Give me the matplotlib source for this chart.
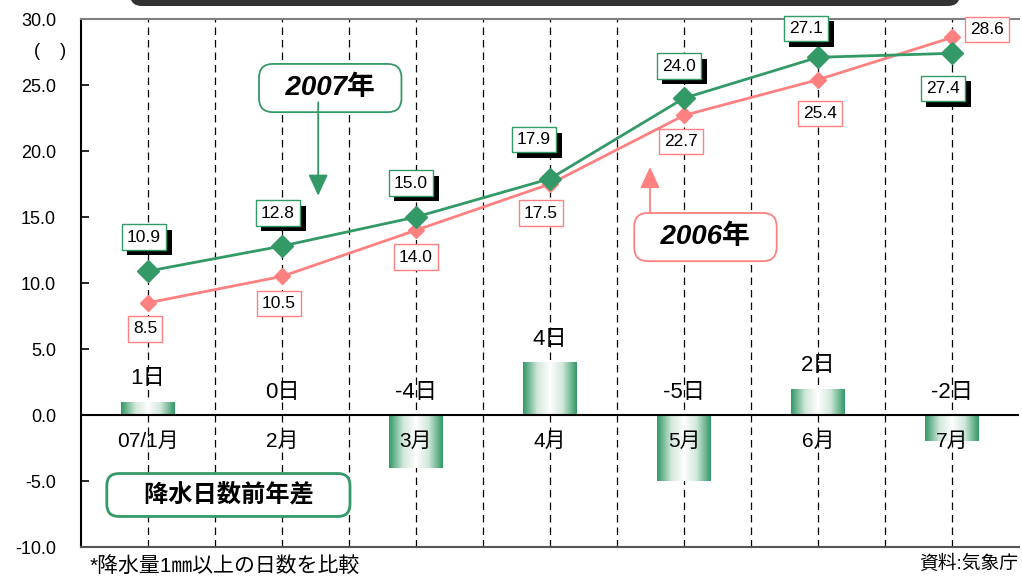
import matplotlib
matplotlib.use('Agg')
import matplotlib.pyplot as plt
import numpy as np
from matplotlib.colors import LinearSegmentedColormap
from matplotlib.patches import FancyBboxPatch
from matplotlib.transforms import IdentityTransform
import matplotlib.patheffects as pe

plt.rcParams['font.family'] = ['Liberation Sans', 'Noto Sans CJK JP']

months = ['07/1月', '2月', '3月', '4月', '5月', '6月', '7月']
temp_2007 = [10.9, 12.8, 15.0, 17.9, 24.0, 27.1, 27.4]
temp_2006 = [8.5, 10.5, 14.0, 17.5, 22.7, 25.4, 28.6]
rain_diff = [1, 0, -4, 4, -5, 2, -2]
y_ticks = [-10, -5, 0, 5, 10, 15, 20, 25, 30]

GREEN = '#339966'
PINK = '#ff8080'

# label offsets in pixels (dx, dy)
off_2007 = [(-4, 34), (-4, 33), (-5, 34), (-16, 39), (-5, 32), (-12, 29), (-9, -35)]
off_2006 = [(-3, -26), (-3, -27), (0, -27), (-9, -29), (-3, -26), (2, -34), (35, 8)]

fig = plt.figure(figsize=(10.22, 5.76), dpi=100)
ax = fig.add_axes([81 / 1022, 29 / 576, 938 / 1022, 528 / 576])

x = np.arange(len(months))
ax.set_xlim(-0.5, len(months) - 0.5)
ax.set_ylim(-10, 30)

# dashed verticals at centres and borders
for xv in np.arange(0, len(months) - 0.5, 0.5):
    ax.axvline(xv, color='black', lw=0.9, ls=(0, (6, 4)), zorder=0)

ax.axhline(0, color='black', lw=1.5, zorder=3)

# gradient bars
cmap = LinearSegmentedColormap.from_list('g', ['white', '#d2e8dc', GREEN])
grad = np.abs(np.linspace(-1, 1, 256)).reshape(1, -1) ** 0.9
bars = ax.bar(x, rain_diff, width=0.40, facecolor='none', edgecolor='none', zorder=2)
for b in bars:
    if b.get_height() == 0:
        continue
    y0, y1 = sorted([b.get_y(), b.get_y() + b.get_height()])
    im = ax.imshow(grad, cmap=cmap, aspect='auto', zorder=2,
                   extent=[b.get_x(), b.get_x() + b.get_width(), y0, y1])
    im.set_clip_path(b)

for xi, v in zip(x, rain_diff):
    ax.annotate(f'{v}日', (xi, max(v, 0)), xytext=(0, 23), textcoords='offset pixels',
                ha='center', va='center', fontsize=16, zorder=5)

for xi, m in zip(x, months):
    ax.annotate(m, (xi, 0), xytext=(0, -26), textcoords='offset pixels',
                ha='center', va='center', fontsize=15, zorder=5)

# lines
ax.plot(x, temp_2006, color=PINK, lw=2, marker='D', ms=8, zorder=6)
ax.plot(x, temp_2007, color=GREEN, lw=2, marker='D', ms=11, zorder=7)

for xi, v, (dx, dy) in zip(x, temp_2007, off_2007):
    t = ax.annotate(f'{v:.1f}', (xi, v), xytext=(dx, dy), textcoords='offset pixels',
                    ha='center', va='center', fontsize=12.5, zorder=8,
                    bbox=dict(boxstyle='square,pad=0.3', fc='white', ec=GREEN, lw=1))
    t.get_bbox_patch().set_path_effects([
        pe.SimplePatchShadow(offset=(4, -4), shadow_rgbFace='black', alpha=1), pe.Normal()])

for xi, v, (dx, dy) in zip(x, temp_2006, off_2006):
    ax.annotate(f'{v:.1f}', (xi, v), xytext=(dx, dy), textcoords='offset pixels',
                ha='center', va='center', fontsize=12.5, zorder=8,
                bbox=dict(boxstyle='square,pad=0.3', fc='white', ec=PINK, lw=1))

# legend-like callouts
ax.text(1.36, 24.77, '  2007年  ', fontsize=20, fontweight='bold', style='italic',
        ha='center', va='center', zorder=9,
        bbox=dict(boxstyle='round,pad=0.4,rounding_size=0.5', fc='white', ec=GREEN, lw=1.3))
ax.annotate('', xy=(1.27, 16.4), xytext=(1.27, 23.9), zorder=9,
            arrowprops=dict(arrowstyle='-|>,head_length=1.3,head_width=0.6',
                            color=GREEN, lw=1.3))
ax.text(4.16, 13.48, '  2006年  ', fontsize=20, fontweight='bold', style='italic',
        ha='center', va='center', zorder=9,
        bbox=dict(boxstyle='round,pad=0.4,rounding_size=0.5', fc='white', ec=PINK, lw=1.3))
ax.annotate('', xy=(3.746, 19.0), xytext=(3.746, 15.1), zorder=9,
            arrowprops=dict(arrowstyle='-|>,head_length=1.3,head_width=0.6',
                            color=PINK, lw=1.3))
ax.text(0.60, -6.06, '    降水日数前年差    ', fontsize=17.5, fontweight='bold',
        style='italic', ha='center', va='center', zorder=9,
        bbox=dict(boxstyle='round,pad=0.4,rounding_size=0.5', fc='white', ec=GREEN, lw=2))

# axes styling
ax.set_xticks([])
ax.set_yticks(y_ticks)
ax.set_yticklabels([f'{t:.1f}' for t in y_ticks], fontsize=13)
ax.tick_params(axis='y', direction='in', length=6, width=1.2, pad=18)
ax.spines['right'].set_visible(False)
ax.spines['top'].set_color('#808080')
ax.spines['top'].set_linewidth(1.5)
ax.spines['left'].set_linewidth(1.5)
ax.spines['bottom'].set_color('#555555')
ax.spines['bottom'].set_linewidth(1.5)

fig.text(50 / 1022, 1 - 52 / 576, '(    )', fontsize=13, ha='center', va='center')
fig.text(90 / 1022, 10 / 576, '*降水量1㎜以上の日数を比較', fontsize=15, ha='left', va='center')
fig.text(1018 / 1022, 12 / 576, '資料:気象庁', fontsize=13.5, ha='right', va='center')

# dark title plate cut off at top
fig.patches.append(FancyBboxPatch((130, 570), 830, 40, boxstyle='round,pad=0,rounding_size=12',
                                  transform=IdentityTransform(), fc='#333333', ec='none'))

fig.savefig('out.png', dpi=100)
